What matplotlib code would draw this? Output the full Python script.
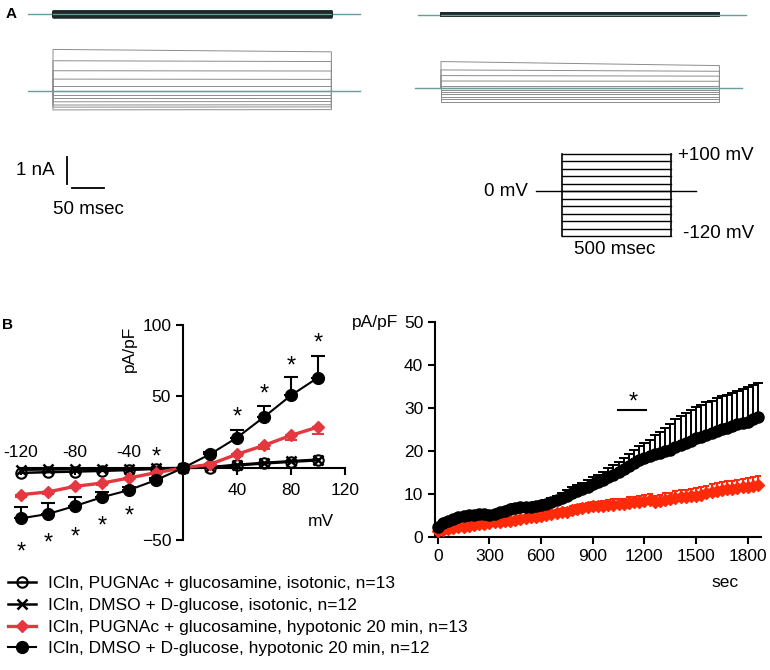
import matplotlib.pyplot as plt
from matplotlib.transforms import ScaledTranslation

plt.rcParams['font.family'] = ['Liberation Sans', 'DejaVu Sans']
plt.rcParams['font.size'] = 12.5

W, H = 770, 670

# ---- A: whole-cell current traces, one level per voltage step (nA) ----
step_mv = [100, 80, 60, 40, 20, 0, -20, -40, -60, -80, -100, -120]
dmso_iso_nA = [0.12, 0.10, 0.08, 0.06, 0.04, 0.02, 0.0, -0.02, -0.04, -0.06, -0.08, -0.11]
dmso_hypo_start_nA = [1.53, 1.11, 0.74, 0.43, 0.19, 0.0, -0.16, -0.28, -0.41, -0.53, -0.61, -0.71]
dmso_hypo_end_nA = [1.44, 1.08, 0.73, 0.42, 0.19, 0.0, -0.16, -0.28, -0.40, -0.52, -0.60, -0.70]
pug_iso_nA = [0.07, 0.06, 0.05, 0.04, 0.02, 0.01, 0.0, -0.01, -0.02, -0.04, -0.05, -0.07]
pug_hypo_start_nA = [0.99, 0.68, 0.47, 0.27, 0.10, 0.0, -0.06, -0.14, -0.22, -0.31, -0.40, -0.50]
pug_hypo_end_nA = [0.84, 0.63, 0.45, 0.26, 0.10, 0.0, -0.06, -0.14, -0.22, -0.31, -0.40, -0.50]
trace_pulse_ms = 435
protocol_pulse_ms = 500

# ---- B left: I-V relation (pA/pF) ----
iv_mv = [-120, -100, -80, -60, -40, -20, 0, 20, 40, 60, 80, 100]
iso_pug = [-3.4, -2.9, -2.5, -2.0, -1.4, -0.6, 0, 0.3, 1.8, 3.2, 4.3, 5.4]
iso_dmso = [-1.2, -1.0, -0.8, -0.6, -0.4, -0.2, 0, 0.6, 2.3, 3.6, 4.8, 5.9]
hypo_pug = [-18.6, -16.7, -12.8, -10.5, -7.0, -3.2, 0, 2.6, 9.6, 15.8, 22.8, 28.6]
hypo_pug_sem = [1.5, 1.5, 1.3, 1.2, 1.0, 0.6, 0, 0.8, 1.5, 2.2, 3.0, 4.6]
hypo_dmso = [-35.1, -32.1, -26.5, -20.4, -15.4, -8.4, 0, 9.6, 21.2, 35.6, 50.7, 63.1]
hypo_dmso_sem = [7.7, 7.4, 6.0, 4.0, 2.5, 1.5, 0, 1.5, 5.6, 7.4, 12.8, 15.0]
star_mv = [-120, -100, -80, -60, -40, -20, 40, 60, 80, 100]
star_y = [-54.5, -48.6, -44.0, -36.3, -29.3, 11.4, 39.3, 55.8, 75.4, 91.5]

# ---- B right: time course (pA/pF at +100 mV) ----
t_sec = [0, 30, 60, 90, 120, 150, 180, 210, 240, 270, 300, 330, 360, 390, 420,
         450, 480, 510, 540, 570, 600, 630, 660, 690, 720, 750, 780, 810, 840, 870,
         900, 930, 960, 990, 1020, 1050, 1080, 1110, 1140, 1170, 1200, 1230, 1260,
         1290, 1320, 1350, 1380, 1410, 1440, 1470, 1500, 1530, 1560, 1590, 1620,
         1650, 1680, 1710, 1740, 1770, 1800, 1830, 1860]
dmso_t = [2.5, 3.3, 3.9, 4.3, 4.7, 5.0, 5.2, 5.3, 5.4, 5.4, 5.3, 5.5, 5.8, 6.1, 6.5,
          6.9, 7.0, 7.0, 7.1, 7.2, 7.4, 7.7, 8.1, 8.6, 9.2, 9.7, 10.2, 10.7, 11.2, 11.8,
          12.3, 12.8, 13.4, 14.0, 14.6, 15.2, 15.9, 16.6, 17.3, 17.9, 18.5, 19.0, 19.4,
          19.7, 20.0, 20.4, 21.0, 21.5, 22.0, 22.5, 23.0, 23.4, 23.9, 24.3, 24.8,
          25.2, 25.5, 25.9, 26.3, 26.6, 26.9, 27.4, 27.9]
dmso_t_sem = [0.3, 0.4, 0.5, 0.5, 0.6, 0.6, 0.6, 0.6, 0.6, 0.6, 0.6, 0.7, 0.7, 0.7, 0.8,
              0.8, 0.8, 0.8, 0.8, 0.9, 0.9, 1.0, 1.0, 1.1, 1.2, 1.3, 1.4, 1.5, 1.5, 1.6,
              1.7, 1.8, 1.9, 2.1, 2.2, 2.4, 2.5, 2.8, 3.1, 3.3, 3.4, 3.6, 4.3,
              4.9, 5.4, 5.9, 6.4, 6.7, 6.9, 7.1, 7.2, 7.4, 7.5, 7.5, 7.6,
              7.6, 7.7, 7.7, 7.8, 7.9, 8.0, 8.0, 8.1]
pug_t = [1.5, 1.7, 1.9, 2.1, 2.3, 2.5, 2.7, 2.9, 3.0, 3.1, 3.3, 3.5, 3.6, 3.8, 3.9,
         4.1, 4.3, 4.5, 4.7, 4.8, 5.0, 5.2, 5.4, 5.6, 5.8, 6.0, 6.3, 6.6, 6.8, 7.0,
         7.3, 7.2, 7.3, 7.5, 7.6, 7.7, 7.8, 8.0, 8.1, 8.3, 8.5, 8.7, 8.3,
         8.4, 8.7, 8.9, 9.1, 9.3, 9.4, 9.5, 9.7, 9.9, 10.2, 10.5, 10.8,
         11.0, 11.2, 11.3, 11.4, 11.6, 11.8, 12.0, 12.2]
pug_t_sem = [0.2, 0.2, 0.3, 0.3, 0.3, 0.3, 0.4, 0.4, 0.4, 0.4, 0.4, 0.5, 0.5, 0.5, 0.5,
             0.5, 0.6, 0.6, 0.6, 0.6, 0.7, 0.7, 0.7, 0.8, 0.8, 0.8, 0.9, 0.9, 1.0, 1.0,
             1.0, 1.1, 1.1, 1.1, 1.2, 1.2, 1.2, 1.3, 1.3, 1.3, 1.4, 1.4, 1.4,
             1.5, 1.5, 1.5, 1.6, 1.6, 1.6, 1.7, 1.7, 1.7, 1.8, 1.8, 1.8,
             1.9, 1.9, 1.9, 2.0, 2.0, 2.0, 2.1, 2.1]

legend_labels = [
    "ICln, PUGNAc + glucosamine, isotonic, n=13",
    "ICln, DMSO + D-glucose, isotonic, n=12",
    "ICln, PUGNAc + glucosamine, hypotonic 20 min, n=13",
    "ICln, DMSO + D-glucose, hypotonic 20 min, n=12",
]

RED_IV = "#e3383f"
RED_T = "#ff2a0a"
TRACE = "#8c8c8c"
BASE = "#6a9c9c"
BAND = "#1e2a2a"
FS_A = 13.5


def px_rect(x0, y0, x1, y1):
    return [x0 / W, 1 - y1 / H, (x1 - x0) / W, (y1 - y0) / H]


def draw_traces(ax, start, end, offset, color, lw, t_pre, t_post):
    ax.plot([t_pre, t_post], [offset, offset], color=BASE, lw=1.0, zorder=1)
    for a, b in zip(start, end):
        ax.plot([0, 0, trace_pulse_ms, trace_pulse_ms],
                [offset, offset + a, offset + b, offset], color=color, lw=lw, zorder=2)
    ax.plot([0, trace_pulse_ms], [offset, offset], color=BASE, lw=0.9, zorder=3)


fig = plt.figure(figsize=(W / 100, H / 100), dpi=100)

# left traces (DMSO)
axA1 = fig.add_axes(px_rect(0, 0, 400, 260))
axA1.set_xlim(-82.8, 542.2)
axA1.set_ylim(-6.27, 3.36)
axA1.axis('off')
draw_traces(axA1, dmso_iso_nA, dmso_iso_nA, 2.84, BAND, 1.8, -39, 480)
draw_traces(axA1, dmso_hypo_start_nA, dmso_hypo_end_nA, 0.0, TRACE, 0.7, -39, 480)
# scale bars
axA1.plot([21.9, 21.9], [-2.46, -3.46], color='k', lw=1.3)
axA1.plot([29.7, 79.7], [-3.6, -3.6], color='k', lw=1.3)
axA1.text(3, -2.96, "1 nA", ha='right', va='center', fontsize=FS_A)
axA1.text(0, -4.4, "50 msec", ha='left', va='center', fontsize=FS_A)

# right traces (PUGNAc)
axA2 = fig.add_axes(px_rect(400, 0, 770, 260))
axA2.set_xlim(-64, 514)
axA2.set_ylim(-6.36, 3.27)
axA2.axis('off')
draw_traces(axA2, pug_iso_nA, pug_iso_nA, 2.73, BAND, 1.2, -36, 476)
draw_traces(axA2, pug_hypo_start_nA, pug_hypo_end_nA, 0.0, TRACE, 0.7, -40, 470)

# voltage protocol
axP = fig.add_axes(px_rect(470, 140, 770, 260))
axP.set_xlim(-422, 954)
axP.set_ylim(-184.2, 137.5)
axP.axis('off')
for v in step_mv:
    axP.plot([0, protocol_pulse_ms], [v, v], color='k', lw=1.0)
axP.plot([0, 0], [min(step_mv), max(step_mv)], color='k', lw=1.2)
axP.plot([protocol_pulse_ms, protocol_pulse_ms], [min(step_mv), max(step_mv)], color='k', lw=1.2)
axP.plot([-119, 615], [0, 0], color='k', lw=1.0)
axP.text(-156, 0, "0 mV", ha='right', va='center', fontsize=FS_A)
axP.text(532, 97, "+100 mV", ha='left', va='center', fontsize=FS_A)
axP.text(555, -112, "-120 mV", ha='left', va='center', fontsize=FS_A)
axP.text(240, -157, "500 msec", ha='center', va='center', fontsize=FS_A)

fig.text(6 / W, 1 - 14 / H, "A", fontweight='bold', fontsize=11, va='center')
fig.text(2 / W, 1 - 325 / H, "B", fontweight='bold', fontsize=11, va='center')

# ---- I-V plot ----
ax = fig.add_axes(px_rect(10, 315, 355, 560))
ax.set_xlim(-128.1, 127.4)
ax.set_ylim(-64.2, 106.8)
for s in ['top', 'right']:
    ax.spines[s].set_visible(False)
ax.spines['left'].set_position(('data', 0))
ax.spines['bottom'].set_position(('data', 0))
ax.spines['left'].set_bounds(-50, 100)
ax.spines['bottom'].set_bounds(-120, 120)
for s in ['left', 'bottom']:
    ax.spines[s].set_linewidth(1.5)
ax.set_yticks([-50, 50, 100])
xt = [-120, -80, -40, 40, 80, 120]
ax.set_xticks(xt)
ax.set_xticklabels([])
ax.tick_params(direction='out', length=5, width=1.5)
for x in xt:
    ax.text(x, 10.8 if x < 0 else -16, str(x), ha='center', va='center')
ax.text(102, -37, "mV", ha='center', va='center')
ax.text(-39.6, 83, "pA/pF", rotation=90, ha='center', va='center')

no_err = [0] * len(iv_mv)
h1, = ax.plot(iv_mv, iso_pug, '-o', color='k', mfc='none', ms=7.5, mew=1.5, lw=1.8, zorder=3)
h2, = ax.plot(iv_mv, iso_dmso, '-x', color='k', ms=7.5, mew=1.8, lw=1.8, zorder=3)
e3 = ax.errorbar(iv_mv, hypo_pug, yerr=[hypo_pug_sem, no_err], fmt='-D', color=RED_IV,
                 ms=6, lw=2.4, capsize=4, elinewidth=1.5, capthick=1.5, zorder=4)
e4 = ax.errorbar(iv_mv, hypo_dmso, yerr=[no_err, hypo_dmso_sem], fmt='-o', color='k',
                 ms=8.5, lw=1.5, capsize=5, elinewidth=1.5, capthick=1.5, zorder=5)
star_shift = ScaledTranslation(0, -4.5 / 72, fig.dpi_scale_trans)
for x, y in zip(star_mv, star_y):
    ax.text(x, y, "*", ha='center', va='center', fontsize=17, transform=ax.transData + star_shift)

fig.legend([h1, h2, e3[0], e4[0]], legend_labels, loc='upper left',
           bbox_to_anchor=(8 / W, 1 - 576 / H), frameon=False, fontsize=12.5,
           handlelength=1.6, handletextpad=0.7, labelspacing=0.38,
           borderpad=0, borderaxespad=0)

# ---- time course ----
axt = fig.add_axes(px_rect(435, 315, 765, 537.3))
axt.set_xlim(-15.7, 1900.5)
axt.set_ylim(0, 51.7)
for s in ['top', 'right']:
    axt.spines[s].set_visible(False)
for s in ['left', 'bottom']:
    axt.spines[s].set_linewidth(1.5)
axt.spines['left'].set_bounds(0, 50)
axt.spines['bottom'].set_bounds(-15.7, 1880)
axt.set_xticks([0, 300, 600, 900, 1200, 1500, 1800])
axt.set_yticks([0, 10, 20, 30, 40, 50])
axt.tick_params(direction='out', length=5, width=1.5)

no_err_t = [0] * len(t_sec)
ep = axt.errorbar(t_sec, pug_t, yerr=[no_err_t, pug_t_sem], fmt='-D', color=RED_T,
                  ms=6, lw=1.5, capsize=2.5, elinewidth=1.5, capthick=1.5, zorder=3)
ed = axt.errorbar(t_sec, dmso_t, yerr=[no_err_t, dmso_t_sem], fmt='-o', color='k',
                  ms=8, lw=1.0, capsize=3.5, elinewidth=1.4, capthick=1.4, zorder=4)
for cont in (ep, ed):
    for art in cont.get_children():
        art.set_clip_on(False)
axt.plot([1048, 1209], [29.6, 29.6], color='k', lw=1.5)
axt.text(1136, 32.7, "*", ha='center', va='center', fontsize=17,
         transform=axt.transData + star_shift)
axt.text(1668, -10.4, "sec", ha='center', va='center')
fig.text(398 / W, 1 - 322 / H, "pA/pF", ha='right', va='center')

fig.savefig("out.png", dpi=100)
